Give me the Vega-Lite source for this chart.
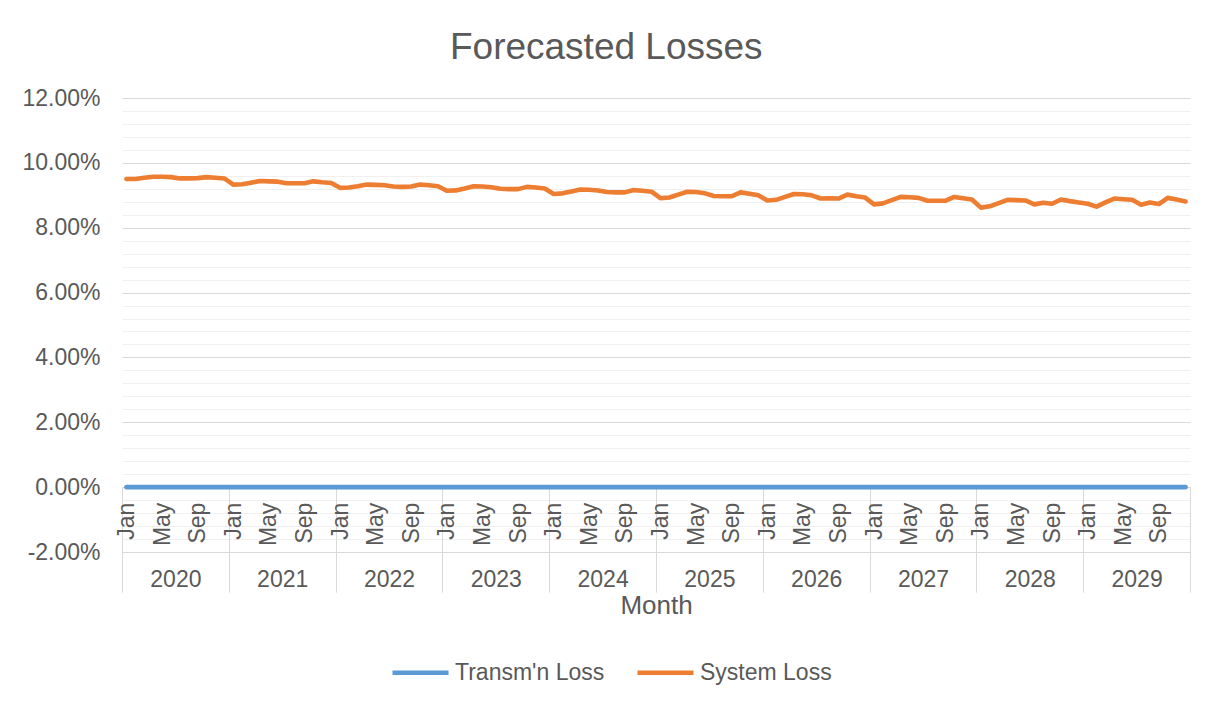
{
  "$schema": "https://vega.github.io/schema/vega-lite/v6.json",
  "width": 1068,
  "height": 454,
  "autosize": {"type": "none"},
  "padding": {"left": 122, "top": 98, "right": 31, "bottom": 155},
  "background": "white",
  "title": {"text": "Forecasted Losses", "fontSize": 37, "fontWeight": "normal", "color": "#595959", "anchor": "middle", "frame": "bounds", "offset": 20},
  "data": {"values": [
    {"month":0,"transmission":0,"system":0.0950},{"month":1,"transmission":0,"system":0.0950},{"month":2,"transmission":0,"system":0.0954},{"month":3,"transmission":0,"system":0.0957},{"month":4,"transmission":0,"system":0.0957},{"month":5,"transmission":0,"system":0.0956},{"month":6,"transmission":0,"system":0.0952},{"month":7,"transmission":0,"system":0.0952},{"month":8,"transmission":0,"system":0.0953},{"month":9,"transmission":0,"system":0.0956},{"month":10,"transmission":0,"system":0.0954},{"month":11,"transmission":0,"system":0.0952},
    {"month":12,"transmission":0,"system":0.0933},{"month":13,"transmission":0,"system":0.0934},{"month":14,"transmission":0,"system":0.0939},{"month":15,"transmission":0,"system":0.0944},{"month":16,"transmission":0,"system":0.0943},{"month":17,"transmission":0,"system":0.0942},{"month":18,"transmission":0,"system":0.0937},{"month":19,"transmission":0,"system":0.0937},{"month":20,"transmission":0,"system":0.0937},{"month":21,"transmission":0,"system":0.0943},{"month":22,"transmission":0,"system":0.0940},{"month":23,"transmission":0,"system":0.0938},
    {"month":24,"transmission":0,"system":0.0923},{"month":25,"transmission":0,"system":0.0924},{"month":26,"transmission":0,"system":0.0928},{"month":27,"transmission":0,"system":0.0933},{"month":28,"transmission":0,"system":0.0932},{"month":29,"transmission":0,"system":0.0931},{"month":30,"transmission":0,"system":0.0927},{"month":31,"transmission":0,"system":0.0926},{"month":32,"transmission":0,"system":0.0927},{"month":33,"transmission":0,"system":0.0933},{"month":34,"transmission":0,"system":0.0931},{"month":35,"transmission":0,"system":0.0928},
    {"month":36,"transmission":0,"system":0.0914},{"month":37,"transmission":0,"system":0.0915},{"month":38,"transmission":0,"system":0.0921},{"month":39,"transmission":0,"system":0.0928},{"month":40,"transmission":0,"system":0.0927},{"month":41,"transmission":0,"system":0.0925},{"month":42,"transmission":0,"system":0.0920},{"month":43,"transmission":0,"system":0.0919},{"month":44,"transmission":0,"system":0.0919},{"month":45,"transmission":0,"system":0.0926},{"month":46,"transmission":0,"system":0.0924},{"month":47,"transmission":0,"system":0.0921},
    {"month":48,"transmission":0,"system":0.0904},{"month":49,"transmission":0,"system":0.0906},{"month":50,"transmission":0,"system":0.0912},{"month":51,"transmission":0,"system":0.0918},{"month":52,"transmission":0,"system":0.0917},{"month":53,"transmission":0,"system":0.0915},{"month":54,"transmission":0,"system":0.0910},{"month":55,"transmission":0,"system":0.0909},{"month":56,"transmission":0,"system":0.0909},{"month":57,"transmission":0,"system":0.0916},{"month":58,"transmission":0,"system":0.0914},{"month":59,"transmission":0,"system":0.0911},
    {"month":60,"transmission":0,"system":0.0891},{"month":61,"transmission":0,"system":0.0893},{"month":62,"transmission":0,"system":0.0902},{"month":63,"transmission":0,"system":0.0911},{"month":64,"transmission":0,"system":0.0910},{"month":65,"transmission":0,"system":0.0906},{"month":66,"transmission":0,"system":0.0898},{"month":67,"transmission":0,"system":0.0897},{"month":68,"transmission":0,"system":0.0897},{"month":69,"transmission":0,"system":0.0909},{"month":70,"transmission":0,"system":0.0905},{"month":71,"transmission":0,"system":0.0900},
    {"month":72,"transmission":0,"system":0.0884},{"month":73,"transmission":0,"system":0.0886},{"month":74,"transmission":0,"system":0.0895},{"month":75,"transmission":0,"system":0.0904},{"month":76,"transmission":0,"system":0.0903},{"month":77,"transmission":0,"system":0.0900},{"month":78,"transmission":0,"system":0.0890},{"month":79,"transmission":0,"system":0.0891},{"month":80,"transmission":0,"system":0.0890},{"month":81,"transmission":0,"system":0.0902},{"month":82,"transmission":0,"system":0.0897},{"month":83,"transmission":0,"system":0.0893},
    {"month":84,"transmission":0,"system":0.0872},{"month":85,"transmission":0,"system":0.0875},{"month":86,"transmission":0,"system":0.0885},{"month":87,"transmission":0,"system":0.0895},{"month":88,"transmission":0,"system":0.0894},{"month":89,"transmission":0,"system":0.0892},{"month":90,"transmission":0,"system":0.0883},{"month":91,"transmission":0,"system":0.0883},{"month":92,"transmission":0,"system":0.0883},{"month":93,"transmission":0,"system":0.0895},{"month":94,"transmission":0,"system":0.0891},{"month":95,"transmission":0,"system":0.0887},
    {"month":96,"transmission":0,"system":0.0862},{"month":97,"transmission":0,"system":0.0866},{"month":98,"transmission":0,"system":0.0876},{"month":99,"transmission":0,"system":0.0886},{"month":100,"transmission":0,"system":0.0885},{"month":101,"transmission":0,"system":0.0884},{"month":102,"transmission":0,"system":0.0872},{"month":103,"transmission":0,"system":0.0877},{"month":104,"transmission":0,"system":0.0874},{"month":105,"transmission":0,"system":0.0887},{"month":106,"transmission":0,"system":0.0882},{"month":107,"transmission":0,"system":0.0878},
    {"month":108,"transmission":0,"system":0.0874},{"month":109,"transmission":0,"system":0.0865},{"month":110,"transmission":0,"system":0.0878},{"month":111,"transmission":0,"system":0.0890},{"month":112,"transmission":0,"system":0.0888},{"month":113,"transmission":0,"system":0.0886},{"month":114,"transmission":0,"system":0.0871},{"month":115,"transmission":0,"system":0.0878},{"month":116,"transmission":0,"system":0.0873},{"month":117,"transmission":0,"system":0.0892},{"month":118,"transmission":0,"system":0.0887},{"month":119,"transmission":0,"system":0.0881}
  ]},
  "transform": [{"fold": ["transmission", "system"], "as": ["series", "value"]}],
  "layer": [
    {
      "mark": {"type": "line", "opacity": 0},
      "encoding": {
        "x": {"field": "month", "type": "quantitative", "scale": {"domain": [-0.5, 119.5], "nice": false, "zero": false},
          "axis": {"orient": "bottom", "values": [5.5, 17.5, 29.5, 41.5, 53.5, 65.5, 77.5, 89.5, 101.5, 113.5],
            "labelExpr": "'' + (2020 + floor(datum.value / 12))", "ticks": false, "domain": false, "grid": false,
            "labelPadding": 16, "labelFontSize": 23, "labelColor": "#595959", "labelOverlap": false, "labelFlush": false,
            "title": "Month", "titleFontSize": 26, "titleFontWeight": "normal", "titleColor": "#595959", "titlePadding": 1}},
        "y": {"field": "value", "type": "quantitative", "scale": {"domain": [-0.02, 0.12], "nice": false, "zero": false},
          "axis": {"orient": "left", "values": [-0.016, -0.012, -0.008, -0.004, 0.004, 0.008, 0.012, 0.016, 0.024, 0.028, 0.032, 0.036, 0.044, 0.048, 0.052, 0.056, 0.064, 0.068, 0.072, 0.076, 0.084, 0.088, 0.092, 0.096, 0.104, 0.108, 0.112, 0.116],
            "labels": false, "ticks": false, "domain": false, "grid": true, "gridColor": "#f0f0f0", "gridWidth": 1, "title": null}}
      }
    },
    {
      "mark": {"type": "line", "opacity": 0},
      "encoding": {
        "x": {"field": "month", "type": "quantitative",
          "axis": {"orient": "bottom", "offset": -64.857, "values": [-0.5, 11.5, 23.5, 35.5, 47.5, 59.5, 71.5, 83.5, 95.5, 107.5, 119.5],
            "labels": false, "ticks": true, "tickSize": 105, "tickColor": "#d9d9d9", "tickWidth": 1, "domain": false, "grid": false, "title": null}},
        "y": {"field": "value", "type": "quantitative", "axis": null}
      }
    },
    {
      "mark": {"type": "line", "strokeWidth": 4.6, "strokeCap": "round", "strokeJoin": "round"},
      "encoding": {
        "x": {"field": "month", "type": "quantitative",
          "axis": {"orient": "bottom", "offset": -64.857, "values": [0, 4, 8, 12, 16, 20, 24, 28, 32, 36, 40, 44, 48, 52, 56, 60, 64, 68, 72, 76, 80, 84, 88, 92, 96, 100, 104, 108, 112, 116],
            "labelExpr": "datum.value % 12 == 0 ? 'Jan' : (datum.value % 12 == 4 ? 'May' : 'Sep')",
            "labelAngle": -90, "labelPadding": 15, "labelFontSize": 23, "labelColor": "#595959", "labelOverlap": false, "labelFlush": false, "labelBound": false,
            "ticks": false, "domain": true, "domainColor": "#d9d9d9", "grid": false, "title": null}},
        "y": {"field": "value", "type": "quantitative",
          "axis": {"orient": "left", "values": [-0.02, 0, 0.02, 0.04, 0.06, 0.08, 0.10, 0.12],
            "labelExpr": "(datum.value < -0.0001 ? '-' : '') + format(abs(datum.value), '.2%')",
            "labelPadding": 22, "labelFontSize": 23, "labelColor": "#595959", "ticks": false, "domain": false,
            "grid": true, "gridColor": "#d9d9d9", "gridWidth": 1, "title": null}},
        "color": {"field": "series", "type": "nominal",
          "scale": {"domain": ["transmission", "system"], "range": ["#5B9BD5", "#ED7D31"]},
          "legend": {"orient": "none", "legendX": 268, "legendY": 544, "direction": "horizontal", "title": null,
            "symbolType": "stroke", "symbolSize": 3136, "symbolStrokeWidth": 4.5, "labelFontSize": 23, "labelColor": "#595959",
            "labelOffset": 4, "columnPadding": 23, "padding": 0,
            "labelExpr": "datum.value == 'system' ? 'System Loss' : \"Transm'n Loss\""}}
      }
    }
  ],
  "resolve": {"scale": {"x": "shared", "y": "shared"}, "axis": {"x": "independent", "y": "independent"}},
  "config": {"font": "Liberation Sans", "view": {"stroke": null}}
}
